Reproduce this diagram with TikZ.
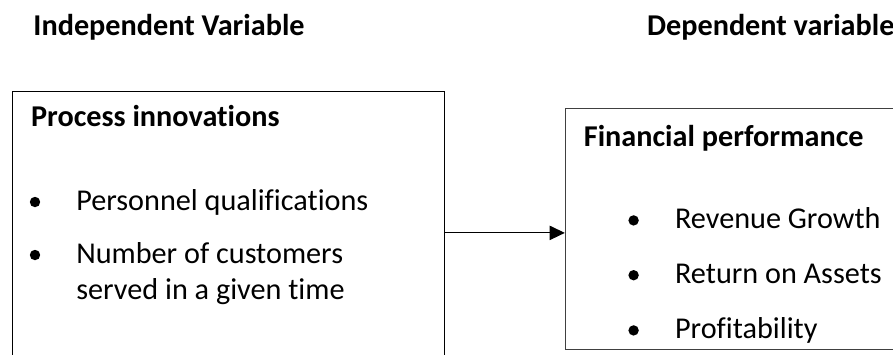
\documentclass[tikz,border=0pt]{standalone}
\usepackage{fontspec}
\setmainfont{Carlito}[Ligatures=NoCommon]
\usetikzlibrary{arrows.meta, positioning}

\begin{document}
\begin{tikzpicture}[
        >={Triangle[length=3.8mm, width=3.6mm]},
        font=\fontsize{21.5}{25.9}\selectfont,
        % Style for the two framed boxes
        varbox/.style={rectangle, draw=black, line width=0.7pt, anchor=north west, inner sep=0pt},
        % Style for the bold headings
        heading/.style={font=\fontsize{21.5}{25.9}\selectfont\bfseries, anchor=base west, inner sep=0pt},
        % Style for the list entries and their bullets
        entry/.style={anchor=base west, inner sep=0pt, align=left},
        dot/.style={circle, fill=black, minimum size=2.6mm, inner sep=0pt}
    ]
        \useasboundingbox (0,0) rectangle (22.325,-8.85);
        \clip (0,0) rectangle (22.325,-8.85);

        % --- Column titles ---
        \node[heading] (indep) at (0.83,-0.875) {Independent Variable};
        \node[heading] (dep) at (16.17,-0.875) {Dependent variable};

        % --- Left box: process innovations ---
        \node[varbox, minimum width=10.82cm, minimum height=7.08cm] (lbox) at (0.29,-2.27) {};
        \node[heading] (proc) at (0.77,-3.17) {Process innovations};
        \node[dot] (b1) at (0.875,-5.05) {};
        \node[entry] (qual) at (1.9,-5.25) {Personnel qualifications};
        \node[dot] (b2) at (0.875,-6.375) {};
        % base of a two-line node sits on its last line
        \node[entry] (cust) at (1.9,-7.49) {Number of customers\\served in a given time};

        % --- Right box: financial performance ---
        \node[varbox, draw=black!75, minimum width=8.88cm, minimum height=6.01cm] (rbox) at (14.12,-2.71) {};
        \node[heading] (fin) at (14.59,-3.67) {Financial performance};
        \begin{scope}
            \clip (rbox.north west) rectangle ([yshift=0.16cm]rbox.south east);
            \node[dot] (b3) at (15.84,-5.51) {};
            \node[entry] (rev) at (16.87,-5.71) {Revenue Growth};
            \node[dot] (b4) at (15.84,-6.88) {};
            \node[entry] (roa) at (16.87,-7.08) {Return on Assets};
            \node[dot] (b5) at (15.84,-8.26) {};
            \node[entry] (prof) at (16.87,-8.46) {Profitability};
        \end{scope}

        % --- Arrow between the boxes ---
        \draw[->, line width=0.7pt] (lbox.east) -- (lbox.east -| rbox.west);

\end{tikzpicture}
\end{document}
